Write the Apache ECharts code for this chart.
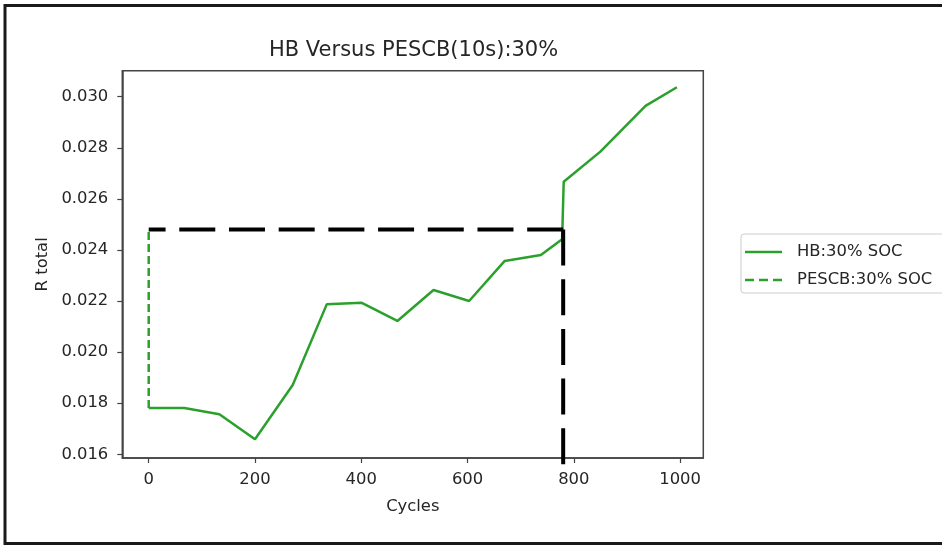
<!DOCTYPE html>
<html>
<head>
<meta charset="utf-8">
<script src="https://cdn.jsdelivr.net/npm/echarts@6/dist/echarts.min.js"></script>
<style>
html,body{margin:0;padding:0;background:#fff;}
#c{width:942px;height:546px;}
</style>
</head>
<body>
<div id="c"></div>
<script>
// Data
const hbCycles = [0, 67, 133, 200, 271, 335, 401, 468, 536, 603, 670, 738, 778, 781, 850, 935, 994];
const hbR = [0.01781, 0.01781, 0.01757, 0.01659, 0.01871, 0.02187, 0.02193, 0.02122, 0.02243, 0.02200, 0.02357, 0.02380, 0.02442, 0.02667, 0.02785, 0.02964, 0.03037];
const pescbCycles = [0, 0];
const pescbR = [0.01781, 0.02480];
const refHCycles = [780, 0];
const refHR = [0.02480, 0.02480];
const refVCycles = [780, 780];
const refVR = [0.02480, 0.01550];
const xTicks = [0, 200, 400, 600, 800, 1000];
const yTicks = [0.016, 0.018, 0.020, 0.022, 0.024, 0.026, 0.028, 0.030];
const seriesNames = ['HB:30% SOC', 'PESCB:30% SOC'];
const titleText = 'HB Versus PESCB(10s):30%';

const zip = (a, b) => a.map((v, i) => [v, b[i]]);
const green = '#2ca02c';
const txt = '#262626';
const font = 'DejaVu Sans';
const solidIcon = 'path://M0,0H37V2.5H0Z';
const dashIcon = 'path://M0,0H9V2.5H0Z M14,0H23V2.5H14Z M28,0H37V2.5H28Z';

const chart = echarts.init(document.getElementById('c'), null, {renderer: 'canvas'});
chart.setOption({
  backgroundColor: '#fff',
  animation: false,
  title: {
    text: titleText,
    left: 264, top: 35,
    textStyle: {fontFamily: font, fontSize: 21, fontWeight: 'normal', color: txt}
  },
  legend: {
    data: [{name: seriesNames[0], icon: solidIcon}, {name: seriesNames[1], icon: dashIcon}],
    orient: 'vertical',
    left: 741, top: 234,
    padding: [10, 12, 5, 4],
    itemWidth: 37, itemHeight: 2.5, itemGap: 12,
    borderColor: '#cccccc', borderWidth: 1, borderRadius: 3,
    backgroundColor: '#fff',
    itemStyle: {color: green},
    textStyle: {fontFamily: font, fontSize: 16.4, color: txt, padding: [0, 0, 0, 10]}
  },
  grid: {
    left: 122.3, right: 238.7, top: 70.7, bottom: 88,
    show: true, borderColor: '#444', borderWidth: 1.5, backgroundColor: 'transparent'
  },
  xAxis: {
    type: 'value', min: -49.7, max: 1043.7,
    name: 'Cycles', nameLocation: 'middle', nameGap: 41,
    nameTextStyle: {fontFamily: font, fontSize: 16.4, color: txt},
    axisLine: {show: true, onZero: false, lineStyle: {color: '#444', width: 1.5}},
    axisTick: {show: true, inside: false, length: 5, customValues: xTicks, lineStyle: {color: '#444', width: 1.2}},
    axisLabel: {customValues: xTicks, margin: 14, fontFamily: font, fontSize: 16.4, color: txt,
      formatter: v => String(v)},
    splitLine: {show: false}
  },
  yAxis: {
    type: 'value', min: 0.015855, max: 0.031018,
    name: 'R total', nameLocation: 'middle', nameGap: 72, nameRotate: 90,
    nameTextStyle: {fontFamily: font, fontSize: 16.4, color: txt},
    axisLine: {show: true, onZero: false, lineStyle: {color: '#444', width: 1.5}},
    axisTick: {show: true, inside: false, length: 5, customValues: yTicks, lineStyle: {color: '#444', width: 1.2}},
    axisLabel: {customValues: yTicks, margin: 14, fontFamily: font, fontSize: 16.4, color: txt,
      formatter: v => v.toFixed(3)},
    splitLine: {show: false}
  },
  graphic: [{
    type: 'rect', silent: true, z: 100,
    shape: {x: 5, y: 5.5, width: 1000, height: 538},
    style: {fill: 'none', stroke: '#1a1a1a', lineWidth: 3}
  }],
  series: [
    {
      name: seriesNames[0], type: 'line', data: zip(hbCycles, hbR),
      symbol: 'none', color: green,
      lineStyle: {color: green, width: 2.5}, z: 3
    },
    {
      name: seriesNames[1], type: 'line', data: zip(pescbCycles, pescbR),
      symbol: 'none', color: green,
      lineStyle: {color: green, width: 2.5, type: [8, 4]}, z: 3
    },
    {
      name: 'refH', type: 'line', data: zip(refHCycles, refHR),
      symbol: 'none', color: '#000', clip: false,
      lineStyle: {color: '#000', width: 4, type: [36, 13.7]}, z: 4
    },
    {
      name: 'refV', type: 'line', data: zip(refVCycles, refVR),
      symbol: 'none', color: '#000', clip: false,
      lineStyle: {color: '#000', width: 4, type: [36, 13.7]}, z: 4
    }
  ]
});
</script>
</body>
</html>
